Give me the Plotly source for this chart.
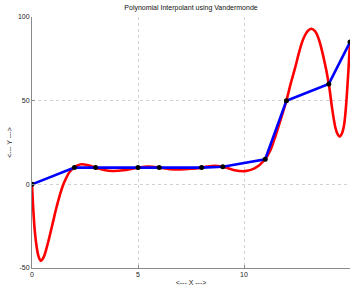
import plotly.graph_objects as go

# Data points (blue polyline with black markers)
x_data = [0, 2, 3, 5, 6, 8, 9, 11, 12, 14, 15]
y_data = [0, 10, 10, 10, 10, 10, 10.5, 15, 50, 60, 85]

# Red interpolant curve
x_curve = [0, 0.03, 0.08, 0.14, 0.24, 0.32, 0.42, 0.55, 0.7, 0.85, 1.0, 1.15,
           1.3, 1.45, 1.6, 1.75, 1.9, 2.0, 2.15, 2.34, 2.6, 3.0, 3.4, 3.8,
           4.3, 5.0, 5.5, 6.0, 6.5, 7.0, 7.5, 8.0, 8.5, 9.0, 9.5, 10.05,
           10.5, 11.0, 11.25, 11.5, 11.75, 12.0, 12.2, 12.42, 12.6, 12.8,
           13.0, 13.17, 13.35, 13.52, 13.75, 14.0, 14.15, 14.31, 14.42,
           14.51, 14.6, 14.7, 14.78, 14.86, 14.93, 15.0]
y_curve = [0, -8, -19, -29, -39, -43.5, -45.7, -43.5, -37.5, -30, -22, -14,
           -7, -1, 3.5, 7, 9.2, 10, 11.3, 12, 11.6, 10, 8.6, 8.0,
           8.4, 10, 10.6, 10, 9.1, 8.9, 9.3, 10, 11.0, 10.5, 8.6, 7.9,
           9.5, 15, 20.5, 29.5, 39.5, 50, 60, 70, 79, 87,
           91.5, 93, 91.5, 87, 76, 60, 46, 34, 29.8,
           28.5, 29.8, 34, 42, 55, 69, 85]

x_ticks = [0, 5, 10, 15]
y_ticks = [-50, 0, 50, 100]

FONT = "Liberation Sans, Arial, sans-serif"

fig = go.Figure()
fig.add_trace(go.Scatter(x=x_curve, y=y_curve, mode="lines",
                         line=dict(color="#ff0000", width=2.6, shape="spline", smoothing=1.0),
                         hoverinfo="skip", showlegend=False))
fig.add_trace(go.Scatter(x=x_data, y=y_data, mode="lines+markers",
                         line=dict(color="#0000ff", width=2.6),
                         marker=dict(color="#000000", size=5),
                         showlegend=False))

axis_common = dict(
    showline=True, linecolor="#8a8a8a", linewidth=1,
    ticks="inside", ticklen=3, tickcolor="#8a8a8a",
    showgrid=True, gridcolor="#d2d2d2", griddash="dot", gridwidth=1,
    zeroline=False, mirror=False,
    tickfont=dict(family=FONT, size=7, color="#222222"),
)

fig.update_xaxes(range=[0, 15], tickvals=x_ticks, ticktext=[str(v) for v in x_ticks],
                 title=dict(text="<--- X --->", font=dict(family=FONT, size=7, color="#222222"),
                            standoff=2),
                 **axis_common)
fig.update_yaxes(range=[-50, 100], tickvals=y_ticks, ticktext=[str(v) for v in y_ticks],
                 title=dict(text="<--- Y --->", font=dict(family=FONT, size=7, color="#222222"),
                            standoff=4),
                 **axis_common)

fig.update_layout(
    width=352, height=288,
    margin=dict(l=32, r=2, t=17, b=20, autoexpand=False),
    paper_bgcolor="white", plot_bgcolor="white",
    title=dict(text="Polynomial Interpolant using Vandermonde",
               font=dict(family=FONT, size=7, color="#111111"),
               x=0.5, xanchor="center", xref="paper", y=1 - 8 / 288, yanchor="middle"),
)

fig.write_html("out.html", config={"displayModeBar": False},
               post_script="document.body.style.margin='0';document.body.style.overflow='hidden';")
